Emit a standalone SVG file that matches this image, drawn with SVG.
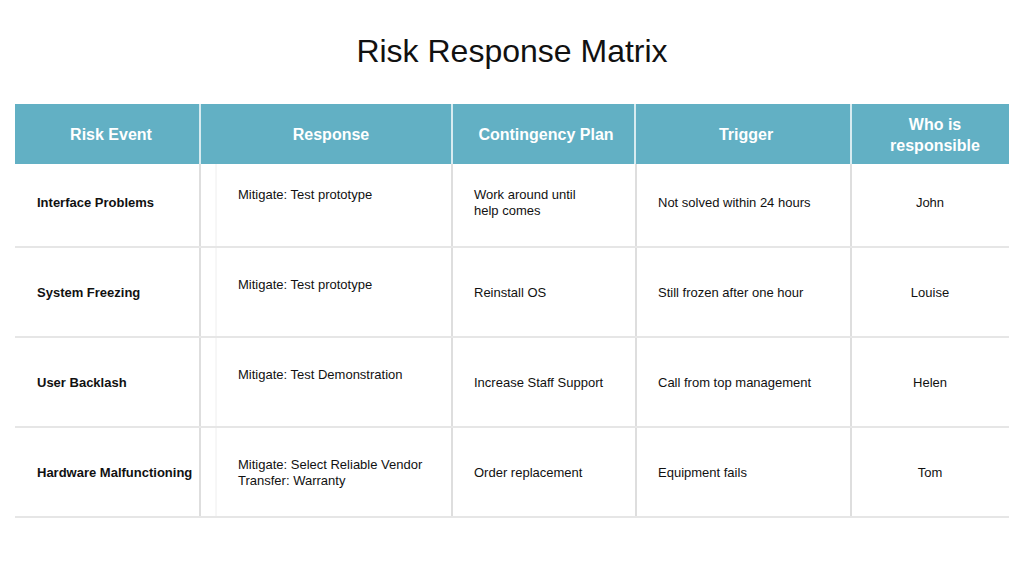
<svg xmlns="http://www.w3.org/2000/svg" width="1024" height="576" viewBox="0 0 1024 576">
<style>
.t{font-family:"Liberation Sans",Arial,sans-serif;fill:#111}
.h{font-family:"Liberation Sans",Arial,sans-serif;fill:#fff;font-weight:bold;font-size:16px;text-anchor:middle}
.b{font-size:13px;font-weight:bold}
.c{font-size:13px}
.m{text-anchor:middle}
.v{stroke:#bdbdbd;stroke-width:1}
.hl{stroke:#e6e6e6;stroke-width:2}
</style>
<rect width="1024" height="576" fill="#fff"/>
<text class="t" x="512" y="62" font-size="32" text-anchor="middle">Risk Response Matrix</text>
<g id="header">
<rect x="15" y="104" width="994" height="60" fill="#62b0c4"/>
<g stroke="#fff" stroke-width="1.5"><line x1="200" y1="104" x2="200" y2="164"/><line x1="452" y1="104" x2="452" y2="164"/><line x1="635" y1="104" x2="635" y2="164"/><line x1="851" y1="104" x2="851" y2="164"/></g>
<text class="h" x="111" y="140">Risk Event</text>
<text class="h" x="331" y="140">Response</text>
<text class="h" x="546" y="140">Contingency Plan</text>
<text class="h" x="746" y="140">Trigger</text>
<text class="h" x="935" y="130">Who is</text>
<text class="h" x="935" y="151">responsible</text>
</g>
<g id="grid">
<line class="v" x1="200" y1="164" x2="200" y2="517"/>
<line x1="216" y1="164" x2="216" y2="517" stroke="#eee"/>
<line class="v" x1="452" y1="164" x2="452" y2="517"/>
<line class="v" x1="636" y1="164" x2="636" y2="517"/>
<line class="v" x1="851" y1="164" x2="851" y2="517"/>
<line class="hl" x1="15" y1="247" x2="1009" y2="247"/>
<line class="hl" x1="15" y1="337" x2="1009" y2="337"/>
<line class="hl" x1="15" y1="427" x2="1009" y2="427"/>
<line class="hl" x1="15" y1="517" x2="1009" y2="517"/>
</g>
<g id="row1" class="t">
<text class="t b" x="37" y="207">Interface Problems</text>
<text class="t c" x="238" y="199">Mitigate: Test prototype</text>
<text class="t c" x="474" y="199">Work around until</text>
<text class="t c" x="474" y="215">help comes</text>
<text class="t c" x="658" y="207">Not solved within 24 hours</text>
<text class="t c m" x="930" y="207">John</text>
</g>
<g id="row2">
<text class="t b" x="37" y="297">System Freezing</text>
<text class="t c" x="238" y="289">Mitigate: Test prototype</text>
<text class="t c" x="474" y="297">Reinstall OS</text>
<text class="t c" x="658" y="297">Still frozen after one hour</text>
<text class="t c m" x="930" y="297">Louise</text>
</g>
<g id="row3">
<text class="t b" x="37" y="387">User Backlash</text>
<text class="t c" x="238" y="379">Mitigate: Test Demonstration</text>
<text class="t c" x="474" y="387">Increase Staff Support</text>
<text class="t c" x="658" y="387">Call from top management</text>
<text class="t c m" x="930" y="387">Helen</text>
</g>
<g id="row4">
<text class="t b" x="37" y="477">Hardware Malfunctioning</text>
<text class="t c" x="238" y="469">Mitigate: Select Reliable Vendor</text>
<text class="t c" x="238" y="485">Transfer: Warranty</text>
<text class="t c" x="474" y="477">Order replacement</text>
<text class="t c" x="658" y="477">Equipment fails</text>
<text class="t c m" x="930" y="477">Tom</text>
</g>
</svg>
